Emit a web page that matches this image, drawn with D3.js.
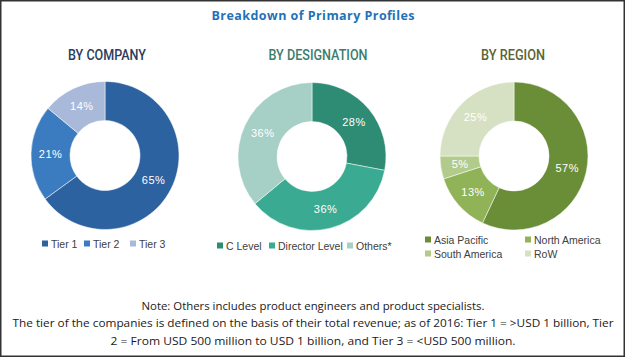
<!DOCTYPE html>
<html><head><meta charset="utf-8">
<script src="https://cdn.jsdelivr.net/npm/d3@7"></script>
<style>html,body{margin:0;padding:0;background:#fff;}svg{display:block;}</style>
</head><body>
<svg id="c" width="626" height="358"></svg>
<script>
const title = "Breakdown of Primary Profiles";
const companyLabels = ["Tier 1", "Tier 2", "Tier 3"];
const companyValues = [65, 21, 14];
const designationLabels = ["C Level", "Director Level", "Others*"];
const designationValues = [28, 36, 36];
const regionLabels = ["Asia Pacific", "North America", "South America", "RoW"];
const regionValues = [57, 13, 5, 25];
const notes = [
  "Note: Others includes product engineers and product specialists.",
  "The tier of the companies is defined on the basis of their total revenue; as of 2016: Tier 1 = >USD 1 billion, Tier",
  "2 = From USD 500 million to USD 1 billion, and Tier 3 = <USD 500 million."
];

const svg = d3.select("#c");
svg.append("rect").attr("x",0.75).attr("y",0.75).attr("width",623.5).attr("height",355.5)
  .attr("fill","#fff").attr("stroke","#333").attr("stroke-width",1.5);

svg.append("text").attr("x",313).attr("y",20).attr("text-anchor","middle")
  .attr("font-family","'Open Sans', sans-serif").attr("font-weight","bold")
  .attr("font-size",12.5).attr("fill","#1f72b8").attr("textLength",203).text(title);

const charts = [
  {head:"BY COMPANY", hc:"#2b3c5c", hw:78, cx:105, cy:155.5, labels:companyLabels, values:companyValues,
   colors:["#2d62a0","#3b7cc0","#a9b9d9"], legend:[[42,244],[84,244],[130,244]]},
  {head:"BY DESIGNATION", hc:"#3b7d6e", hw:99, cx:312, cy:156.5, labels:designationLabels, values:designationValues,
   colors:["#2e8b74","#3aab92","#a6cfc5"], legend:[[217,246],[269,246],[347,246]]},
  {head:"BY REGION", hc:"#5b6433", hw:64, cx:514, cy:156, labels:regionLabels, values:regionValues,
   colors:["#6a8e38","#8fb356","#b2cb8b","#d6e1c3"], legend:[[425,240],[525,240],[425,254],[525,254]]}
];
const headX = [107, 318, 513];

charts.forEach((c,i) => {
  svg.append("text").attr("x",headX[i]).attr("y",60).attr("text-anchor","middle")
    .attr("font-family","'Liberation Sans Narrow','Roboto', sans-serif").attr("font-weight",500)
    .attr("font-size",15).attr("fill",c.hc).attr("textLength",c.hw)
    .attr("lengthAdjust","spacingAndGlyphs").text(c.head);

  const color = d3.scaleOrdinal().domain(c.labels).range(c.colors);
  const pie = d3.pie().sort(null).value(d => d.v);
  const data = pie(c.labels.map((l,k) => ({l, v:c.values[k]})));
  const arc = d3.arc().innerRadius(35).outerRadius(74);
  const lab = d3.arc().innerRadius(54.5).outerRadius(54.5);
  const g = svg.append("g").attr("transform",`translate(${c.cx},${c.cy})`);
  g.selectAll("path").data(data).join("path").attr("d",arc).attr("fill",d => color(d.data.l))
    .attr("stroke","#fff").attr("stroke-width",0.5);
  g.selectAll("text").data(data).join("text")
    .attr("transform",d => `translate(${lab.centroid(d)})`)
    .attr("text-anchor","middle").attr("dy","0.35em")
    .attr("font-family","'Liberation Sans', Arial, sans-serif").attr("font-size",11)
    .attr("fill","#fff").attr("letter-spacing",0.5).text(d => d.data.v + "%");

  c.labels.forEach((l,k) => {
    const [x,y] = c.legend[k];
    svg.append("rect").attr("x",x).attr("y",y-3.5).attr("width",6).attr("height",6).attr("fill",color(l));
    svg.append("text").attr("x",x+9).attr("y",y).attr("dy","0.35em")
      .attr("font-family","'Liberation Sans', Arial, sans-serif").attr("font-size",10.5)
      .attr("fill","#404040").text(l);
  });
});

const noteX = 313, noteY = [306, 323, 341], noteW = [343, 601, 405];
notes.forEach((t,k) => {
  svg.append("text").attr("x",noteX).attr("y",noteY[k]).attr("dy","0.35em").attr("text-anchor","middle")
    .attr("font-family","'Open Sans', sans-serif").attr("font-size",11).attr("fill","#1a1a1a")
    .attr("textLength",noteW[k]).attr("lengthAdjust","spacingAndGlyphs").text(t);
});
</script>
</body></html>
